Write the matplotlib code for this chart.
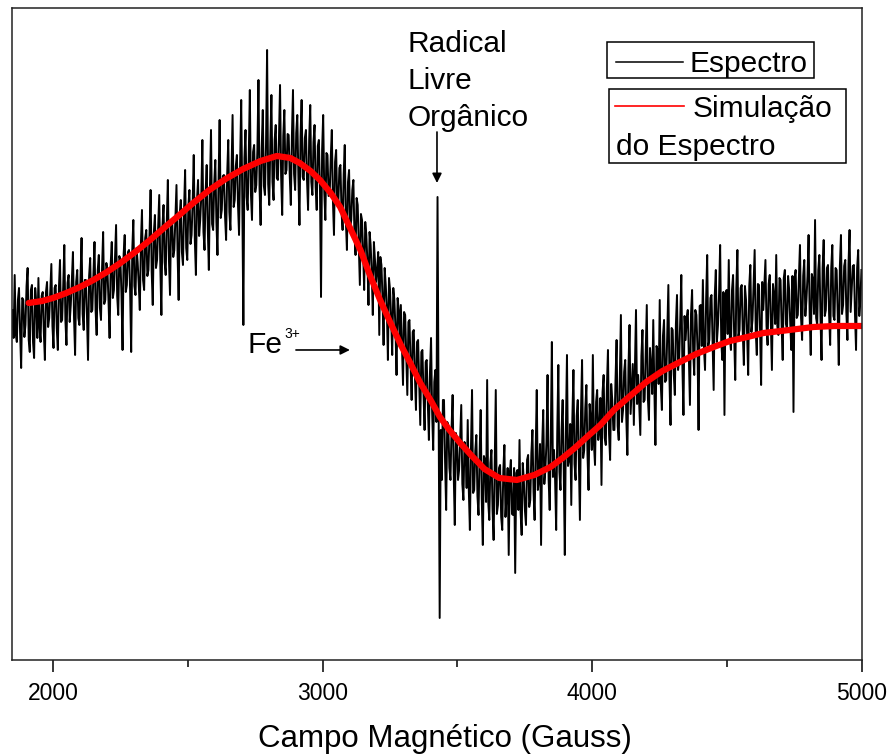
import numpy as np
import matplotlib
matplotlib.use('Agg')
import matplotlib.pyplot as plt
from matplotlib.patches import Rectangle
from matplotlib.lines import Line2D

plt.rcParams['font.family'] = ['Liberation Sans', 'DejaVu Sans']

# espectro de RPE medido, campo de 1850 a 4998 G com passo de 4 G (u.a.)
# picos: leituras nos campos 1850, 1858, ...; base: leituras nos campos 1854, 1862, ...
picos = [
    20, 55, -12, 42, -38, 30, 5, 62, -22, 45, -28, 28, 52, -12, 38, -30, 48, 12, 66, -18,
    45, -20, 70, 10, 85, -15, 55, 25, 78, -25, 60, 5, 92, 0, 50, -30, 72, 20, 88, -5,
    75, 10, 98, 30, 60, -8, 88, 40, 105, 15, 70, -20, 95, 45, 80, -22, 110, 35, 68, 20,
    120, 40, 100, 60, 140, 25, 115, 70, 135, 15, 125, 55, 150, 35, 110, 80, 145, 30, 130, 65,
    160, 70, 140, 95, 175, 55, 150, 110, 190, 80, 165, 60, 200, 100, 170, 75, 210, 120, 155, 90,
    190, 100, 215, 130, 175, 95, 230, 5, 200, 120, 240, 110, 185, 145, 250, 105, 220, 135, 280, 125,
    235, 130, 205, 150, 245, 115, 220, 160, 195, 125, 240, 140, 215, 105, 230, 150, 200, 120, 225, 135,
    205, 120, 190, 33, 215, 110, 175, 135, 200, 95, 180, 125, 165, 100, 185, 80, 160, 110, 150, 75,
    125, 45, 110, 40, 95, 25, 85, 15, 70, 60, -5, 65, -15, 45, -30, 40, -25, 30, -45, 20,
    25, -55, 15, -65, 10, -70, 0, -80, -10, -95, -20, -100, -30, -110, -8, -120, -40, 133, -288, -150,
    -70, -180, -95, -150, -65, -195, -110, -140, -75, -170, -120, -90, -200, -60, -160, -105, -185, -80, -215, -130,
    -50, -190, -120, -210, -60, -175, -135, -200, -115, -165, -225, -130, -185, -243, -140, -110, -205, -150, -195, -125,
    -170, -100, -190, -60, -150, -215, -80, -140, -45, -180, -12, -120, -200, -35, -160, -70, -225, -25, -130, -175,
    -40, -150, -70, -190, -30, -120, -55, -160, -90, -25, -135, -60, -100, -155, -45, -115, -20, -130, -70, -100,
    -10, -110, 15, -80, -30, -125, 5, -60, -95, 20, -45, -105, 0, -70, 25, -90, -35, 10, -115, -20,
    30, -80, 10, -50, 45, -95, 0, -65, 35, -30, 55, -85, -10, 20, -75, 40, -45, 15, -100, 25,
    50, -40, 75, -10, 35, -60, 60, 5, 85, -30, -85, 40, 70, -20, 55, -50, 80, 0, 45, -35,
    30, -45, 65, 10, 80, -25, 45, -55, 20, 70, -15, 55, -40, 35, 75, -5, 50, -30, 60, 0,
    40, -20, -82, 60, 15, 85, -10, 70, 30, 95, -25, 50, 110, 5, 75, -30, 90, 20, 65, -15,
    85, 10, 60, -35, 95, 25, 70, -10, 100, 40, 65, -20, 80, 30,
]
base = [
    -8, -4, 30, -2, 32, -7, 44, -10, 40, -12, 42, -8, 2, 34, -2, 38, 3, 40, 4, 42,
    2, 42, 8, 44, 10, 47, 8, 50, 13, 48, 12, 52, 16, 50, 14, 54, 18, 56, 20, 60,
    22, 62, 26, 67, 28, 66, 32, 72, 34, 74, 36, 76, 38, 78, 40, 80, 44, 82, 46, 86,
    50, 92, 54, 96, 58, 97, 62, 102, 64, 104, 68, 108, 70, 110, 73, 114, 76, 116, 78, 120,
    82, 124, 86, 128, 90, 130, 94, 134, 98, 138, 102, 142, 106, 147, 108, 150, 112, 154, 114, 156,
    118, 160, 123, 164, 126, 168, 130, 172, 133, 174, 136, 178, 138, 180, 142, 182, 144, 186, 146, 188,
    148, 190, 152, 192, 154, 194, 156, 196, 154, 194, 156, 197, 154, 194, 153, 192, 150, 190, 148, 188,
    143, 184, 142, 180, 138, 177, 134, 172, 130, 168, 126, 162, 118, 156, 110, 148, 102, 140, 94, 132,
    86, 116, 78, 108, 68, 98, 58, 88, 48, 78, 73, 32, 62, 22, 52, 12, 42, 2, 32, -8,
    -14, 18, -24, 8, -34, -2, -44, -12, -54, -22, -64, -32, -74, -42, -82, -52, -92, -78, -100, -70,
    -132, -92, -138, -98, -144, -103, -150, -108, -154, -112, -158, -160, -118, -163, -121, -166, -124, -169, -126, -172,
    -172, -133, -180, -138, -184, -138, -187, -140, -187, -138, -143, -184, -138, -143, -180, -182, -133, -180, -130, -177,
    -123, -162, -120, -160, -114, -116, -154, -112, -150, -108, -147, -150, -102, -142, -100, -140, -98, -136, -94, -88,
    -134, -86, -132, -82, -128, -78, -124, -74, -120, -114, -72, -110, -68, -62, -108, -58, -104, -54, -100, -50,
    -96, -46, -92, -42, -88, -38, -84, -34, -36, -74, -76, -26, -72, -22, -68, -18, -64, -58, -16, -54,
    -56, -6, -52, -2, -48, 2, -44, 6, -40, 10, -36, 14, 12, -26, 16, -22, 20, -18, 24, -16,
    -18, 30, -16, 32, -14, 34, -12, 36, -10, 38, 36, -4, -8, 40, -6, 42, -6, 42, -4, 44,
    -4, 44, -2, 46, -2, 46, 0, 48, 44, 4, 46, 6, 46, 6, 4, 52, 4, 52, 6, 54,
    6, 54, 52, 12, 52, 12, 54, 14, 54, 14, 56, 16, 12, 60, 14, 62, 14, 62, 16, 62,
    14, 62, 16, 64, 16, 64, 18, 66, 18, 64, 16, 62, 14, 60,
]
campo = np.arange(1850, 5000, 4)
espectro = np.column_stack([picos, base]).ravel()

# curva simulada
campo_sim = [1910, 1960, 2000, 2050, 2100, 2150, 2200, 2250, 2300, 2360, 2420, 2460,
             2520, 2580, 2640, 2705, 2770, 2830, 2880, 2915, 2955, 2990, 3030, 3065,
             3100, 3140, 3175, 3213, 3250, 3290, 3325, 3360, 3400, 3435, 3470, 3510,
             3550, 3600, 3655, 3720, 3785, 3845, 3890, 3935, 3980, 4030, 4080, 4140,
             4200, 4260, 4325, 4385, 4450, 4510, 4575, 4635, 4700, 4760, 4820, 4900, 5000]
simulacao = [27, 29, 32, 37, 43, 50, 58, 67, 77, 90, 104, 113,
             127, 140, 151, 161, 169, 174, 172, 167, 159, 150, 137, 123,
             103, 80, 55, 30, 8, -15, -33, -52, -70, -87, -100, -113,
             -125, -139, -148, -150, -145, -137, -128, -118, -107, -95, -80, -66,
             -52, -41, -32, -24, -17, -11, -7, -3, -1, 1, 3, 4, 4]

fig = plt.figure(figsize=(8.88, 7.54), dpi=100)
ax = fig.add_axes([0.0135, 0.1247, 0.9572, 0.8647])

ax.plot(campo, espectro, color='black', lw=1.4)
ax.plot(campo_sim, simulacao, color='red', lw=4.5, solid_capstyle='round')

ax.set_xlim(1848, 5000)
ax.set_ylim(-330, 322)
ax.set_yticks([])
ax.set_xticks([2000, 3000, 4000, 5000])
ax.set_xticks([2500, 3500, 4500], minor=True)
ax.tick_params(axis='x', which='major', direction='out', length=8.5, width=1.1,
               labelsize=16.5, pad=7)
ax.tick_params(axis='x', which='minor', direction='out', length=5, width=1.1)
for s in ax.spines.values():
    s.set_linewidth(1.1)
    s.set_color('#222222')
ax.set_xlabel('Campo Magnético (Gauss)', fontsize=22.5, labelpad=14)
ax.xaxis.label.set_x(0.509)

# anotações
fs = 21.5
seta = dict(arrowstyle='-|>', color='black', lw=1.2, mutation_scale=14,
            shrinkA=0, shrinkB=0)
ax.text(3316, 300, 'Radical\nLivre\nOrgânico', fontsize=fs, ha='left', va='top',
        linespacing=1.42)
ax.annotate('', xy=(3424, 147), xytext=(3424, 198), arrowprops=seta)
ax.text(2723, -23, 'Fe', fontsize=fs, ha='left', va='baseline')
ax.text(2858, -8, '3+', fontsize=10, ha='left', va='baseline')
ax.annotate('', xy=(3101, -20), xytext=(2901, -20), arrowprops=seta)

# legendas em caixas separadas
tr = ax.transAxes
ax.add_patch(Rectangle((0.700, 0.8926), 0.2435, 0.0552, transform=tr,
                       fill=False, lw=1.1, ec='black'))
ax.add_line(Line2D([0.7106, 0.7894], [0.9172, 0.9172], transform=tr,
                   color='black', lw=1.1))
ax.text(0.7976, 0.9018, 'Espectro', transform=tr, fontsize=fs, va='baseline')

ax.add_patch(Rectangle((0.7024, 0.7623), 0.2788, 0.1135, transform=tr,
                       fill=False, lw=1.1, ec='black'))
ax.add_line(Line2D([0.7094, 0.7906], [0.8497, 0.8497], transform=tr,
                   color='red', lw=1.2))
ax.text(0.8012, 0.8328, 'Simulação', transform=tr, fontsize=fs, va='baseline')
ax.text(0.7106, 0.7745, 'do Espectro', transform=tr, fontsize=fs, va='baseline')

fig.savefig('out.png', dpi=100)
